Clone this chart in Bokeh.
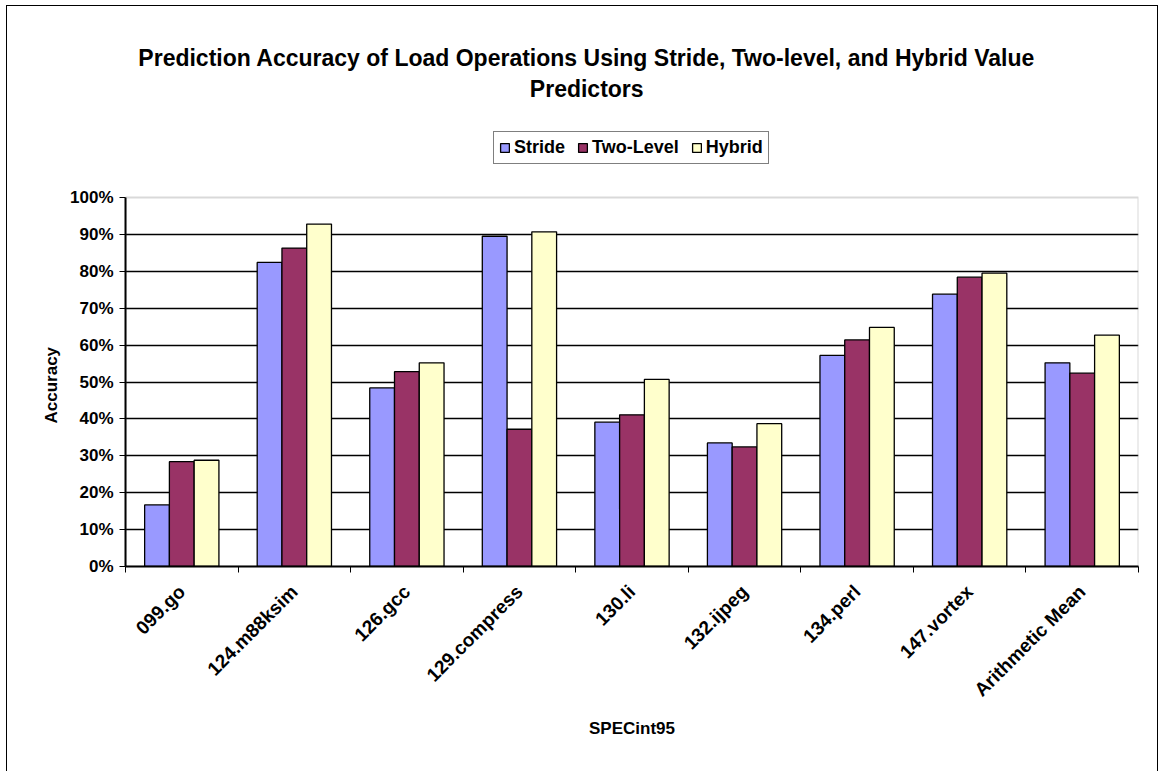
import math
from bokeh.plotting import figure
from bokeh.models import (Range1d, FixedTicker, NumeralTickFormatter, Label, Legend, LegendItem,
                          ColumnDataSource, BoxAnnotation, Title)
from bokeh.embed import file_html
from bokeh.resources import INLINE

categories = ["099.go", "124.m88ksim", "126.gcc", "129.compress", "130.li",
              "132.ijpeg", "134.perl", "147.vortex", "Arithmetic Mean"]
stride = [16.7, 82.4, 48.4, 89.5, 39.1, 33.5, 57.2, 73.8, 55.2]
two_level = [28.4, 86.3, 52.8, 37.2, 41.1, 32.4, 61.4, 78.4, 52.4]
hybrid = [28.8, 92.8, 55.2, 90.7, 50.7, 38.7, 64.8, 79.5, 62.7]
series_names = ["Stride", "Two-Level", "Hybrid"]
series_colors = ["#9999FF", "#993366", "#FFFFCC"]
y_ticks = [0, 10, 20, 30, 40, 50, 60, 70, 80, 90, 100]
title_lines = ["Prediction Accuracy of Load Operations Using Stride, Two-level, and Hybrid Value",
               "Predictors"]

FONT = "Liberation Sans"
PX = 369.0            # pixels per 100 %
FRAME_H = 560         # frame height in px (extends above 100 % to hold title / legend)
N = len(categories)

p = figure(width=1152, height=766, output_backend="svg", toolbar_location=None,
           x_range=Range1d(0, N), y_range=Range1d(0, FRAME_H / PX),
           min_border_left=118, min_border_right=21, min_border_top=0, min_border_bottom=206,
           styles={"margin-left": "6px", "margin-top": "5px",
                   "border-left": "1px solid black", "border-top": "1px solid black",
                   "border-right": "1px solid black"})
p.background_fill_color = "white"
p.border_fill_color = "white"
p.outline_line_color = None

# plot-area border (grey, top & right visible)
p.add_layout(BoxAnnotation(left=0, right=N, bottom=0, top=1, fill_alpha=0,
                           line_color="#808080", line_width=2, level="underlay"))

bw = 0.22
offsets = [-bw, 0, bw]
renderers = []
for vals, off, col in zip([stride, two_level, hybrid], offsets, series_colors):
    src = ColumnDataSource(dict(x=[i + 0.5 + off for i in range(N)],
                                top=[v / 100 for v in vals]))
    r = p.vbar(x="x", top="top", bottom=0, width=bw, source=src,
               fill_color=col, line_color="black", line_width=1.3)
    renderers.append(r)

# x axis
xa = p.xaxis[0]
xa.ticker = FixedTicker(ticks=[i + 0.5 for i in range(N)], minor_ticks=list(range(N + 1)))
xa.major_label_overrides = {i + 0.5: c for i, c in enumerate(categories)}
xa.major_tick_out = 0
xa.major_tick_in = 0
xa.minor_tick_out = 6
xa.minor_tick_in = 0
xa.minor_tick_line_color = "black"
xa.axis_line_color = "black"
xa.axis_line_width = 2
xa.major_label_orientation = math.pi / 4
xa.major_label_text_font = FONT
xa.major_label_text_font_style = "bold"
xa.major_label_text_font_size = "19px"
xa.major_label_text_color = "black"
xa.major_label_standoff = 16
xa.axis_label = "SPECint95"
xa.axis_label_text_font = FONT
xa.axis_label_text_font_style = "bold"
xa.axis_label_text_font_size = "17px"
xa.axis_label_text_color = "black"
xa.axis_label_standoff = 8

# y axis
ya = p.yaxis[0]
ya.bounds = (0, 1)
ya.ticker = FixedTicker(ticks=[t / 100 for t in y_ticks])
ya.formatter = NumeralTickFormatter(format="0%")
ya.major_tick_out = 6
ya.major_tick_in = 0
ya.minor_tick_out = 0
ya.minor_tick_in = 0
ya.axis_line_color = "black"
ya.axis_line_width = 2
ya.major_tick_line_color = "black"
ya.major_label_text_font = FONT
ya.major_label_text_font_style = "bold"
ya.major_label_text_font_size = "17px"
ya.major_label_text_color = "black"
ya.major_label_standoff = 6

# y axis title, centred on the 0-100 % span
p.add_layout(Title(text="Accuracy", align="left", offset=143, standoff=14,
                   text_font=FONT, text_font_style="bold", text_font_size="17px",
                   text_color="black"), "left")

p.xgrid.visible = False
p.ygrid.ticker = FixedTicker(ticks=[t / 100 for t in y_ticks[1:-1]])
p.ygrid.grid_line_color = "black"
p.ygrid.grid_line_width = 1.5

# title (two lines, centred on the chart)
for txt, ypix in zip(title_lines, [57, 88]):
    p.add_layout(Label(x=(586 - 125) / 112.5, y=(566 - ypix) / PX, text=txt,
                       text_align="center", text_baseline="middle", text_font=FONT,
                       text_font_style="bold", text_font_size="23px", text_color="black"))

legend = Legend(items=[LegendItem(label=n, renderers=[r]) for n, r in zip(series_names, renderers)],
                orientation="horizontal", location=(368, 402))
legend.border_line_color = "black"
legend.border_line_width = 1.5
legend.background_fill_color = "white"
legend.background_fill_alpha = 1
legend.label_text_font = FONT
legend.label_text_font_style = "bold"
legend.label_text_font_size = "18px"
legend.label_text_color = "black"
legend.glyph_width = 11
legend.glyph_height = 11
legend.label_standoff = 4
legend.spacing = 12
legend.padding = 5
legend.margin = 0
legend.label_height = 18
p.add_layout(legend, "center")

open("out.html", "w").write(file_html(p, INLINE))
